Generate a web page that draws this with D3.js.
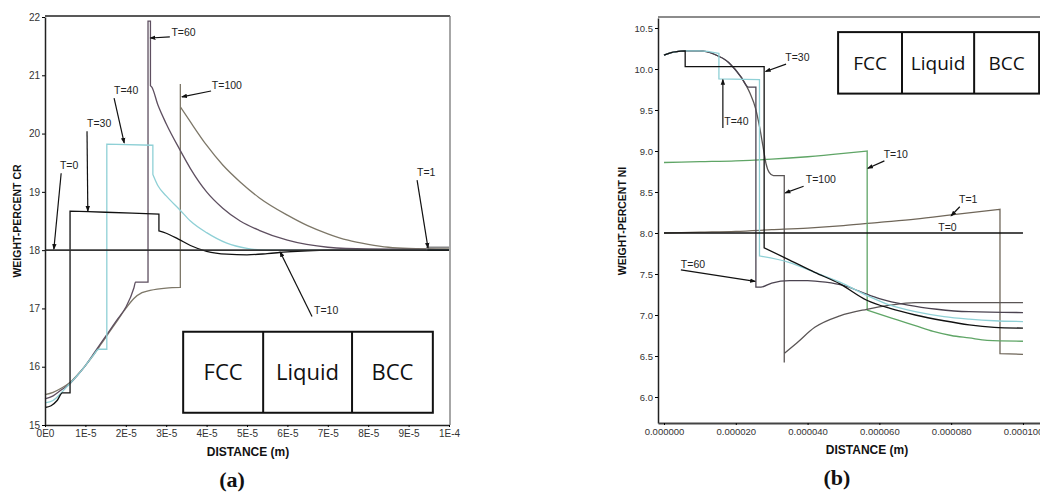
<!DOCTYPE html>
<html>
<head>
<meta charset="utf-8">
<script src="https://cdn.jsdelivr.net/npm/d3@7"></script>
<style>
  body { margin: 0; background: #fff; }
  svg { display: block; font-family: "Liberation Sans", Arial, sans-serif; }
  .tick text { fill: #333; }
</style>
</head>
<body>
<svg id="chart" width="1040" height="493"></svg>
<script>
// distances are in micrometres (10 um = 1E-5 m), values in weight percent

// ---- panel (a): Cr ----
var crT0 = [[0, 18], [100, 18]];
var crT1 = [[0, 18], [94.5, 18], [94.5, 18.05], [100, 18.05]];
var crT30 = [[0, 15.3], [1.5, 15.33], [3, 15.42], [4.3, 15.55], [6.2, 15.55], [6.2, 18.67], [15, 18.65],
  [28.2, 18.62], [28.2, 18.33], [30, 18.29], [33, 18.19], [36, 18.08], [40, 17.98], [45, 17.93],
  [50, 17.92], [55, 17.94], [60, 17.97], [65, 17.99], [70, 18.0], [100, 18.0]];
var crT40 = [[0, 15.38], [2, 15.42], [4, 15.55], [6, 15.7], [8, 15.85], [10, 16.02], [12, 16.2], [13.3, 16.3],
  [15.3, 16.3], [15.3, 19.82], [26.7, 19.8], [26.7, 19.3], [28, 19.1], [30, 18.93], [33.4, 18.69],
  [36, 18.5], [40, 18.3], [45, 18.12], [50, 18.03], [55, 18.0], [100, 18.0]];
var crT60 = [[0, 15.45], [2, 15.5], [4, 15.6], [6, 15.7], [8, 15.85], [10, 16.02], [12, 16.22], [14, 16.42],
  [16, 16.62], [18, 16.82], [20, 17.02], [22, 17.35], [22.4, 17.45], [25.5, 17.45], [25.5, 21.93],
  [26.1, 21.93], [26.1, 20.82], [26.4, 20.8], [28, 20.48], [30, 20.17], [33.4, 19.72], [36, 19.4],
  [40, 19.0], [44, 18.72], [48.3, 18.5], [53, 18.34], [60, 18.17], [70, 18.05], [80, 18.02], [100, 18.01]];
var crT100 = [[0, 15.52], [2, 15.56], [4, 15.63], [6, 15.72], [8, 15.86], [10, 16.02], [12, 16.2], [14, 16.4],
  [16, 16.6], [18, 16.8], [20, 17.0], [22, 17.17], [24, 17.27], [26, 17.31], [30, 17.35], [33.5, 17.36],
  [33.5, 20.85], [33.5, 20.46], [36, 20.2], [40, 19.8], [44, 19.46], [48.3, 19.17], [53, 18.9], [60, 18.6],
  [65, 18.42], [70, 18.28], [75, 18.17], [80, 18.1], [85, 18.05], [90, 18.03], [100, 18.02]];

var crSeries = [
  {name: "T=100", color: "#7d7768", pts: crT100},
  {name: "T=60", color: "#5e4f60", pts: crT60},
  {name: "T=40", color: "#8fd0d6", pts: crT40},
  {name: "T=30", color: "#111", pts: crT30},
  {name: "T=1", color: "#888", pts: crT1},
  {name: "T=0", color: "#111", pts: crT0}
];
// label: text position (left, baseline) and arrow from -> tip, all in data units
var crLabels = [
  {t: "T=0", x: 3.7, y: 19.39, ax: [4.0, 19.32], tip: [2.2, 18.02]},
  {t: "T=30", x: 10.4, y: 20.11, ax: [10.4, 20.04], tip: [10.6, 18.67]},
  {t: "T=40", x: 17.1, y: 20.68, ax: [17.1, 20.61], tip: [19.6, 19.84]},
  {t: "T=60", x: 31.3, y: 21.67, ax: [30.9, 21.66], tip: [26.1, 21.64]},
  {t: "T=100", x: 41.3, y: 20.77, ax: [41.1, 20.73], tip: [33.9, 20.63]},
  {t: "T=1", x: 92.1, y: 19.27, ax: [92.1, 19.2], tip: [94.8, 18.04]},
  {t: "T=10", x: 66.6, y: 16.91, ax: [66.1, 16.86], tip: [58.2, 17.97]}
];
var crTicksX = [0, 10, 20, 30, 40, 50, 60, 70, 80, 90, 100];
var crTicksY = [15, 16, 17, 18, 19, 20, 21, 22];
var crPhases = ["FCC", "Liquid", "BCC"];
var crPhaseX = [34.2, 54.0, 76.0, 96.0];
var crPhaseY = [15.21, 16.6];

// ---- panel (b): Ni ----
var niT0 = [[0, 8.0], [100, 8.0]];
var niT1 = [[0, 8.0], [10, 8.01], [20, 8.02], [30, 8.04], [40, 8.06], [50, 8.09], [60, 8.13], [70, 8.17],
  [80, 8.22], [93.6, 8.29], [93.6, 6.53], [100, 6.52]];
var niT10 = [[0, 8.86], [10, 8.87], [20, 8.88], [30, 8.9], [40, 8.93], [50, 8.97], [56.6, 9.0],
  [56.6, 7.06], [60, 7.01], [65, 6.94], [70, 6.87], [75, 6.8], [80, 6.75], [85, 6.72], [90, 6.69], [100, 6.68]];
var niT30 = [[0, 10.17], [2, 10.2], [5.9, 10.22], [5.9, 10.03], [27.9, 10.03], [27.9, 7.82], [35, 7.67],
  [42, 7.52], [49, 7.38], [56.5, 7.18], [63, 7.08], [70, 7.0], [78, 6.93], [85, 6.88], [92, 6.85], [100, 6.84]];
var niT40 = [[0, 10.17], [2, 10.2], [5.9, 10.22], [10, 10.22], [15.3, 10.19], [15.3, 9.88], [26.6, 9.87],
  [26.6, 7.72], [35, 7.64], [42, 7.52], [49, 7.4], [56.5, 7.24], [63, 7.12], [70, 7.04], [78, 6.98],
  [85, 6.95], [92, 6.93], [100, 6.92]];
var niT60 = [[0, 10.17], [2, 10.2], [5.9, 10.22], [10, 10.22], [14, 10.18], [18, 10.08], [21.5, 9.9],
  [23.5, 9.78], [25.6, 9.78], [25.6, 7.34], [27, 7.34], [30, 7.39], [35, 7.42], [40, 7.42], [45, 7.4],
  [50, 7.36], [55, 7.28], [60, 7.2], [68, 7.12], [76, 7.07], [85, 7.04], [100, 7.03]];
var niT100 = [[0, 10.17], [2, 10.2], [5.9, 10.22], [10, 10.22], [14, 10.18], [18, 10.08], [21.5, 9.9],
  [24, 9.7], [25.5, 9.52], [26.6, 9.3], [27.6, 9.05], [28.4, 8.85], [29.3, 8.74], [30.5, 8.7], [33.5, 8.7],
  [33.5, 6.42], [33.5, 6.53], [37, 6.66], [42, 6.85], [49, 6.99], [56.5, 7.07], [63, 7.12], [70, 7.15], [100, 7.15]];

var niSeries = [
  {name: "T=1", color: "#6f6659", pts: niT1},
  {name: "T=10", color: "#5fa566", pts: niT10},
  {name: "T=100", color: "#5a5555", pts: niT100},
  {name: "T=60", color: "#4b4350", pts: niT60},
  {name: "T=40", color: "#8fd0d6", pts: niT40},
  {name: "T=30", color: "#111", pts: niT30},
  {name: "T=0", color: "#111", pts: niT0}
];
var niLabels = [
  {t: "T=30", x: 33.8, y: 10.1, ax: [34.0, 10.06], tip: [28.3, 9.97]},
  {t: "T=40", x: 16.8, y: 9.32, ax: [16.4, 9.28], tip: [16.4, 9.87]},
  {t: "T=60", x: 4.7, y: 7.57, ax: [4.7, 7.55], tip: [25.4, 7.41]},
  {t: "T=100", x: 39.5, y: 8.61, ax: [38.9, 8.57], tip: [33.8, 8.49]},
  {t: "T=10", x: 61.2, y: 8.91, ax: [61.4, 8.88], tip: [56.8, 8.79]},
  {t: "T=1", x: 82.2, y: 8.37, ax: [82.4, 8.32], tip: [80.0, 8.21]},
  {t: "T=0", x: 76.4, y: 8.02}
];
var niTicksX = [0, 20, 40, 60, 80, 100];
var niTicksY = [6.0, 6.5, 7.0, 7.5, 8.0, 8.5, 9.0, 9.5, 10.0, 10.5];
var niPhases = ["FCC", "Liquid", "BCC"];
var niPhaseX = [48.5, 66.3, 86.4, 104.5];
var niPhaseY = [9.7, 10.45];

var svg = d3.select("#chart");

svg.append("defs").append("marker")
    .attr("id", "arr")
    .attr("viewBox", "0 0 6 6")
    .attr("refX", 5).attr("refY", 3)
    .attr("markerWidth", 5).attr("markerHeight", 5)
    .attr("orient", "auto")
  .append("path")
    .attr("d", "M0,0.8L6,3L0,5.2Z")
    .attr("fill", "#111");

// smooth runs between the vertical steps, steps kept straight
function stepPath(pts, line, x, y) {
    var runs = [[pts[0]]];
    for (var i = 1; i < pts.length; i++) {
        if (pts[i][0] === pts[i - 1][0]) runs.push([pts[i]]);
        else runs[runs.length - 1].push(pts[i]);
    }
    return runs.map(function(r, k) {
        var p = r.length > 1 ? line(r) : "M" + x(r[0][0]) + "," + y(r[0][1]);
        return k === 0 ? p : "L" + p.slice(1);
    }).join("");
}

function drawPanel(cfg) {
    var x = d3.scaleLinear().domain(cfg.xDomain).range(cfg.xRange);
    var y = d3.scaleLinear().domain(cfg.yDomain).range(cfg.yRange);
    var g = svg.append("g");
    if (cfg.clip) {
        svg.select("defs").append("clipPath").attr("id", cfg.clip)
          .append("rect").attr("x", 0).attr("y", 0).attr("width", cfg.clipW).attr("height", 493);
        g.attr("clip-path", "url(#" + cfg.clip + ")");
    }

    // frame (top / right)
    g.append("line")
        .attr("x1", x.range()[0]).attr("x2", cfg.frameRight)
        .attr("y1", y.range()[1] - 1).attr("y2", y.range()[1] - 1)
        .attr("stroke", cfg.topColor).attr("stroke-width", 1.5);
    if (cfg.showRight) {
        g.append("line")
            .attr("x1", cfg.frameRight).attr("x2", cfg.frameRight)
            .attr("y1", y.range()[1] - 1).attr("y2", y.range()[0])
            .attr("stroke", "#777").attr("stroke-width", 1.3);
    }

    var line = d3.line()
        .x(function(d) { return x(d[0]); })
        .y(function(d) { return y(d[1]); })
        .curve(d3.curveMonotoneX);
    cfg.series.forEach(function(s) {
        g.append("path")
            .attr("d", stepPath(s.pts, line, x, y))
            .attr("fill", "none")
            .attr("stroke", s.color)
            .attr("stroke-width", 1.3);
    });

    // phase boxes
    var pb = g.append("g");
    pb.append("rect")
        .attr("x", x(cfg.phaseX[0])).attr("y", y(cfg.phaseY[1]))
        .attr("width", x(cfg.phaseX[3]) - x(cfg.phaseX[0]))
        .attr("height", y(cfg.phaseY[0]) - y(cfg.phaseY[1]))
        .attr("fill", "#fff").attr("stroke", "#111").attr("stroke-width", 2);
    [1, 2].forEach(function(i) {
        pb.append("line")
            .attr("x1", x(cfg.phaseX[i])).attr("x2", x(cfg.phaseX[i]))
            .attr("y1", y(cfg.phaseY[1])).attr("y2", y(cfg.phaseY[0]))
            .attr("stroke", "#111").attr("stroke-width", 2);
    });
    cfg.phases.forEach(function(p, i) {
        pb.append("text")
            .attr("x", (x(cfg.phaseX[i]) + x(cfg.phaseX[i + 1])) / 2)
            .attr("y", (y(cfg.phaseY[0]) + y(cfg.phaseY[1])) / 2)
            .attr("dy", "0.36em")
            .attr("text-anchor", "middle")
            .style("font-family", "'Open Sans', sans-serif")
            .style("font-size", cfg.phaseFont + "px")
            .attr("fill", "#111")
            .text(p);
    });

    // labels + arrows
    cfg.labels.forEach(function(l) {
        g.append("text")
            .attr("x", x(l.x)).attr("y", y(l.y))
            .style("font-size", cfg.labelFont + "px")
            .attr("fill", "#222")
            .text(l.t);
        if (l.tip) {
            g.append("line")
                .attr("x1", x(l.ax[0])).attr("y1", y(l.ax[1]))
                .attr("x2", x(l.tip[0])).attr("y2", y(l.tip[1]))
                .attr("stroke", "#111").attr("stroke-width", 1.2)
                .attr("marker-end", "url(#arr)");
        }
    });

    // axes
    var ya = g.append("g")
        .attr("transform", "translate(" + x.range()[0] + ",0)")
        .call(d3.axisLeft(y).tickValues(cfg.yTicks).tickSize(3).tickSizeOuter(0).tickFormat(cfg.yFormat));
    ya.select(".domain").attr("stroke", "#222").attr("stroke-width", 1.5);
    ya.selectAll("text").style("font-size", cfg.tickFont + "px").attr("x", -5);

    var xa = g.append("g")
        .attr("transform", "translate(0," + y.range()[0] + ")")
        .call(d3.axisBottom(x).tickValues(cfg.xTicks).tickSize(2).tickSizeOuter(0).tickFormat(cfg.xFormat));
    xa.select(".domain").attr("stroke", cfg.bottomColor).attr("stroke-width", cfg.bottomWidth);
    xa.selectAll("text").style("font-size", cfg.tickFont + "px").attr("y", 5);

    // titles
    g.append("text")
        .attr("x", cfg.xTitle[0]).attr("y", cfg.xTitle[1])
        .attr("text-anchor", "middle")
        .style("font-size", "12px").style("font-weight", "bold")
        .attr("fill", "#111")
        .text("DISTANCE (m)");
    g.append("text")
        .attr("transform", "translate(" + cfg.yTitle[0] + "," + cfg.yTitle[1] + ") rotate(-90)")
        .attr("text-anchor", "middle")
        .style("font-size", "10.5px").style("font-weight", "bold")
        .attr("fill", "#111")
        .text(cfg.yLabel);
    svg.append("text")
        .attr("x", cfg.tag[0]).attr("y", cfg.tag[1])
        .attr("text-anchor", "middle")
        .style("font-family", "'Liberation Serif', 'Times New Roman', serif")
        .style("font-size", "22px").style("font-weight", "bold")
        .attr("fill", "#111")
        .text(cfg.tagText);
}

drawPanel({
    xDomain: [0, 100], xRange: [45, 449],
    yDomain: [15, 22], yRange: [425, 17],
    frameRight: 450, showRight: true, topColor: "#222",
    clip: "clipA", clipW: 463,
    series: crSeries, labels: crLabels,
    xTicks: crTicksX, yTicks: crTicksY,
    xFormat: function(d) { return d === 0 ? "0E0" : (d === 100 ? "1E-4" : (d / 10) + "E-5"); },
    yFormat: d3.format("d"),
    phases: crPhases, phaseX: crPhaseX, phaseY: crPhaseY, phaseFont: 22,
    labelFont: 10.5, tickFont: 10,
    bottomColor: "#222", bottomWidth: 1.5,
    xTitle: [248, 456], yTitle: [21, 221], yLabel: "WEIGHT-PERCENT CR",
    tag: [232, 487], tagText: "(a)"
});

drawPanel({
    xDomain: [-1.67, 106], xRange: [658, 1044.5],
    yDomain: [5.683, 10.622], yRange: [423, 18],
    frameRight: 1045, showRight: false, topColor: "#666",
    series: niSeries, labels: niLabels,
    xTicks: niTicksX, yTicks: niTicksY,
    xFormat: function(d) { return (d * 1e-6).toFixed(6); },
    yFormat: d3.format(".1f"),
    phases: niPhases, phaseX: niPhaseX, phaseY: niPhaseY, phaseFont: 19,
    labelFont: 10.5, tickFont: 9.5,
    bottomColor: "#444", bottomWidth: 2.2,
    xTitle: [867, 454], yTitle: [626, 221], yLabel: "WEIGHT-PERCENT NI",
    tag: [837, 485], tagText: "(b)"
});
</script>
</body>
</html>
